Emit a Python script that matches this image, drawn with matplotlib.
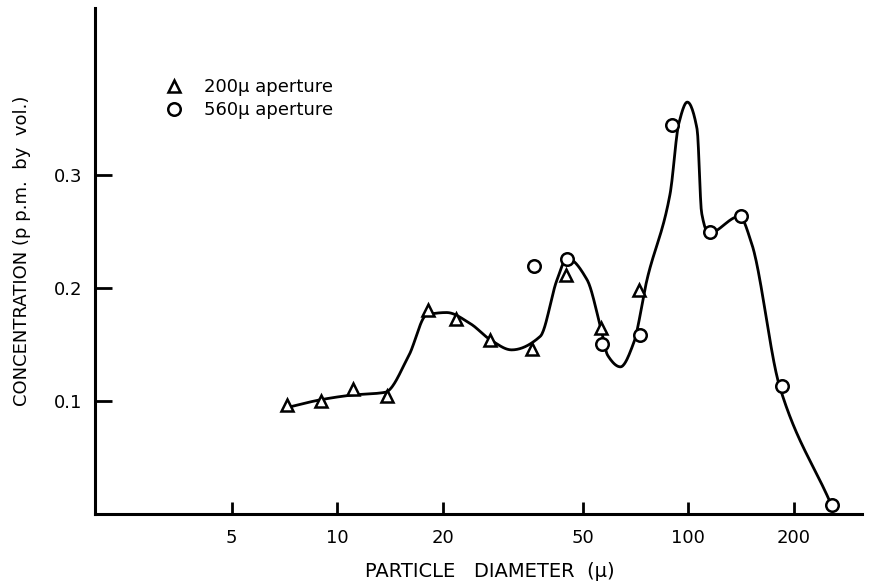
import numpy as np
import matplotlib
matplotlib.use("Agg")
import matplotlib.pyplot as plt
from matplotlib.ticker import FixedLocator, FixedFormatter, NullLocator

plt.rcParams['font.family'] = ['DejaVu Sans']

# 200 micron aperture (triangles)
d_200 = [7.2, 9.0, 11.1, 13.9, 18.1, 21.8, 27.2, 35.9, 44.8, 56.4, 72.5]
c_200 = [0.096, 0.100, 0.110, 0.104, 0.180, 0.172, 0.154, 0.146, 0.211, 0.164, 0.198]

# 560 micron aperture (circles)
d_560 = [36.3, 45.1, 56.8, 72.9, 89.9, 115.0, 141.6, 185.0, 257.6]
c_560 = [0.219, 0.225, 0.150, 0.158, 0.344, 0.249, 0.263, 0.113, 0.008]

# hand drawn curve
curve_d = [7.2, 9.0, 11.0, 13.7, 16.0, 18.0, 20.5, 24.0, 27.3, 31.4, 37.9, 42.3,
           45.2, 51.5, 56.2, 59.0, 64.1, 69.9, 76.3, 88.8, 94.0, 99.4, 106.0,
           109.2, 114.3, 140.0, 151.6, 182.0, 254.0]
curve_c = [0.094, 0.101, 0.105, 0.1075, 0.140, 0.176, 0.178, 0.168, 0.154, 0.145,
           0.157, 0.207, 0.226, 0.207, 0.166, 0.140, 0.130, 0.151, 0.207, 0.283,
           0.345, 0.364, 0.340, 0.266, 0.248, 0.263, 0.239, 0.113, 0.010]

x_ticks = [5, 10, 20, 50, 100, 200]
y_ticks = [0.1, 0.2, 0.3]


def pchip(x, y, xn):
    # monotone cubic so the curve doesn't overshoot the knots
    x = np.asarray(x, float)
    y = np.asarray(y, float)
    h = np.diff(x)
    s = np.diff(y) / h
    m = np.zeros_like(y)
    for k in range(1, len(x) - 1):
        if s[k - 1] * s[k] > 0:
            w1 = 2 * h[k] + h[k - 1]
            w2 = h[k] + 2 * h[k - 1]
            m[k] = (w1 + w2) / (w1 / s[k - 1] + w2 / s[k])
    m[0] = s[0]
    m[-1] = s[-1]
    idx = np.clip(np.searchsorted(x, xn) - 1, 0, len(x) - 2)
    t = (xn - x[idx]) / h[idx]
    h00 = 2 * t**3 - 3 * t**2 + 1
    h10 = t**3 - 2 * t**2 + t
    h01 = -2 * t**3 + 3 * t**2
    h11 = t**3 - t**2
    return h00 * y[idx] + h10 * h[idx] * m[idx] + h01 * y[idx + 1] + h11 * h[idx] * m[idx + 1]


lx = np.log10(curve_d)
xs = np.linspace(lx[0], lx[-1], 800)
ys = pchip(lx, curve_c, xs)

fig = plt.figure(figsize=(8.7, 5.86), dpi=100)
ax = fig.add_axes([0.109, 0.123, 0.882, 0.863])

ax.plot(10**xs, ys, color='black', lw=2.0, zorder=2)
ax.plot(d_200, c_200, linestyle='none', marker='^', ms=9, mfc='white', mec='black',
        mew=1.8, zorder=3, label='200\u03bc aperture')
ax.plot(d_560, c_560, linestyle='none', marker='o', ms=9, mfc='white', mec='black',
        mew=1.8, zorder=3, label='560\u03bc aperture')

ax.set_xscale('log')
ax.set_xlim(2.04, 313)
ax.set_ylim(0, 0.447)

ax.xaxis.set_major_locator(FixedLocator(x_ticks))
ax.xaxis.set_major_formatter(FixedFormatter([str(v) for v in x_ticks]))
ax.xaxis.set_minor_locator(NullLocator())
ax.set_yticks(y_ticks)
ax.set_yticklabels([str(v) for v in y_ticks])

for s in ['top', 'right']:
    ax.spines[s].set_visible(False)
for s in ['left', 'bottom']:
    ax.spines[s].set_linewidth(2.2)

ax.tick_params(axis='x', direction='in', length=9, width=2, pad=11, labelsize=13)
ax.tick_params(axis='y', direction='in', length=12, width=2, pad=9, labelsize=13)

ax.set_xlabel('PARTICLE   DIAMETER  (\u03bc)', fontsize=14)
ax.xaxis.set_label_coords(0.515, -0.095)
ax.set_ylabel('CONCENTRATION (p p.m.  by  vol.)', fontsize=13)
ax.yaxis.set_label_coords(-0.083, 0.52)

ax.legend(loc='upper left', bbox_to_anchor=(0.079, 0.88), frameon=False,
          handlelength=1.0, handletextpad=1.2, labelspacing=0.3, fontsize=13,
          borderpad=0)

fig.savefig('out.png', dpi=100)
